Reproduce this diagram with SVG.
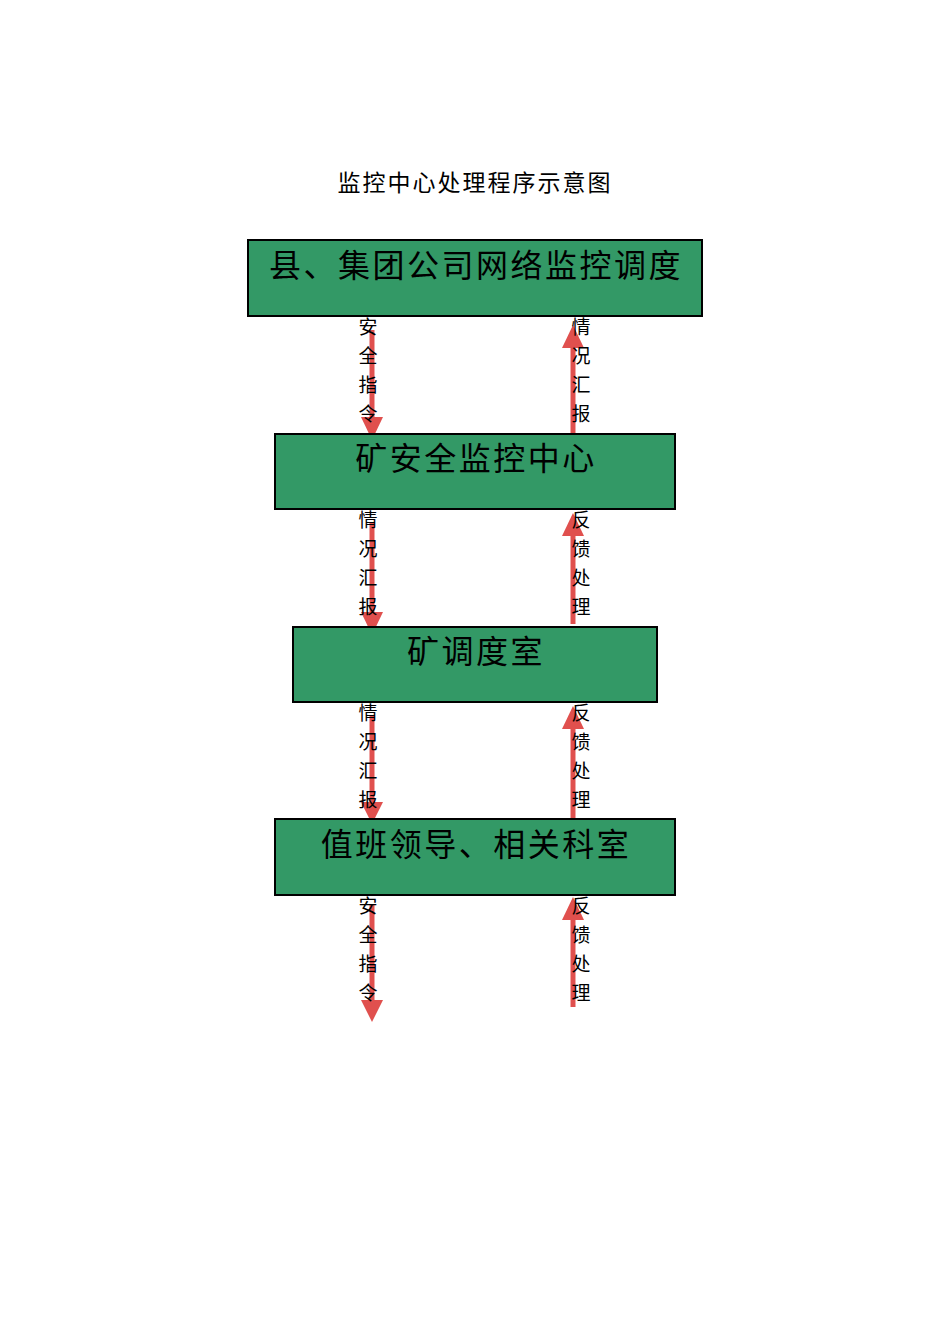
<svg xmlns="http://www.w3.org/2000/svg" width="950" height="1344" viewBox="0 0 950 1344">
<defs>
<style>
.box{fill:#339966;stroke:#000;stroke-width:2}
.bt{font-family:"Noto Sans CJK SC",sans-serif;font-size:32px;fill:#000;text-anchor:middle;letter-spacing:2.5px}
.lb{font-family:"Noto Sans CJK SC",sans-serif;font-size:19px;fill:#000;text-anchor:middle}
.ar{stroke:#E0504E;stroke-width:5;fill:none}
.hd{fill:#E0504E}
.title{font-family:"Noto Sans CJK SC",sans-serif;font-size:23px;fill:#000;text-anchor:middle;letter-spacing:2px}
</style>
</defs>
<rect width="950" height="1344" fill="#fff"/>
<text class="title" x="475" y="191">监控中心处理程序示意图</text>

<g id="connectors">
<line class="ar" x1="372" y1="330" x2="372" y2="420"/>
<polygon class="hd" points="361,417 383,417 372,440"/>
<line class="ar" x1="573" y1="434" x2="573" y2="345"/>
<polygon class="hd" points="562,348 584,348 573,325"/>

<line class="ar" x1="372" y1="522" x2="372" y2="615"/>
<polygon class="hd" points="361,612 383,612 372,635"/>
<line class="ar" x1="573" y1="624" x2="573" y2="533"/>
<polygon class="hd" points="562,536 584,536 573,513"/>

<line class="ar" x1="372" y1="715" x2="372" y2="805"/>
<polygon class="hd" points="361,802 383,802 372,824"/>
<line class="ar" x1="573" y1="822" x2="573" y2="726"/>
<polygon class="hd" points="562,729 584,729 573,706"/>

<line class="ar" x1="372" y1="905" x2="372" y2="1002"/>
<polygon class="hd" points="361,1000 383,1000 372,1022"/>
<line class="ar" x1="573" y1="1007" x2="573" y2="917"/>
<polygon class="hd" points="562,920 584,920 573,897"/>
</g>

<g id="labels">
<text class="lb" x="368" y="334">安</text>
<text class="lb" x="368" y="363">全</text>
<text class="lb" x="368" y="392">指</text>
<text class="lb" x="368" y="421">令</text>
<text class="lb" x="581" y="334">情</text>
<text class="lb" x="581" y="363">况</text>
<text class="lb" x="581" y="392">汇</text>
<text class="lb" x="581" y="421">报</text>

<text class="lb" x="368" y="527">情</text>
<text class="lb" x="368" y="556">况</text>
<text class="lb" x="368" y="585">汇</text>
<text class="lb" x="368" y="614">报</text>
<text class="lb" x="581" y="527">反</text>
<text class="lb" x="581" y="556">馈</text>
<text class="lb" x="581" y="585">处</text>
<text class="lb" x="581" y="614">理</text>

<text class="lb" x="368" y="720">情</text>
<text class="lb" x="368" y="749">况</text>
<text class="lb" x="368" y="778">汇</text>
<text class="lb" x="368" y="807">报</text>
<text class="lb" x="581" y="720">反</text>
<text class="lb" x="581" y="749">馈</text>
<text class="lb" x="581" y="778">处</text>
<text class="lb" x="581" y="807">理</text>

<text class="lb" x="368" y="913">安</text>
<text class="lb" x="368" y="942">全</text>
<text class="lb" x="368" y="971">指</text>
<text class="lb" x="368" y="1000">令</text>
<text class="lb" x="581" y="913">反</text>
<text class="lb" x="581" y="942">馈</text>
<text class="lb" x="581" y="971">处</text>
<text class="lb" x="581" y="1000">理</text>
</g>

<g id="node1">
<rect class="box" x="248" y="240" width="454" height="76"/>
<text class="bt" x="476" y="277">县、集团公司网络监控调度</text>
</g>
<g id="node2">
<rect class="box" x="275" y="434" width="400" height="75"/>
<text class="bt" x="476" y="470">矿安全监控中心</text>
</g>
<g id="node3">
<rect class="box" x="293" y="627" width="364" height="75"/>
<text class="bt" x="476" y="663">矿调度室</text>
</g>
<g id="node4">
<rect class="box" x="275" y="819" width="400" height="76"/>
<text class="bt" x="476" y="856">值班领导、相关科室</text>
</g>
</svg>
